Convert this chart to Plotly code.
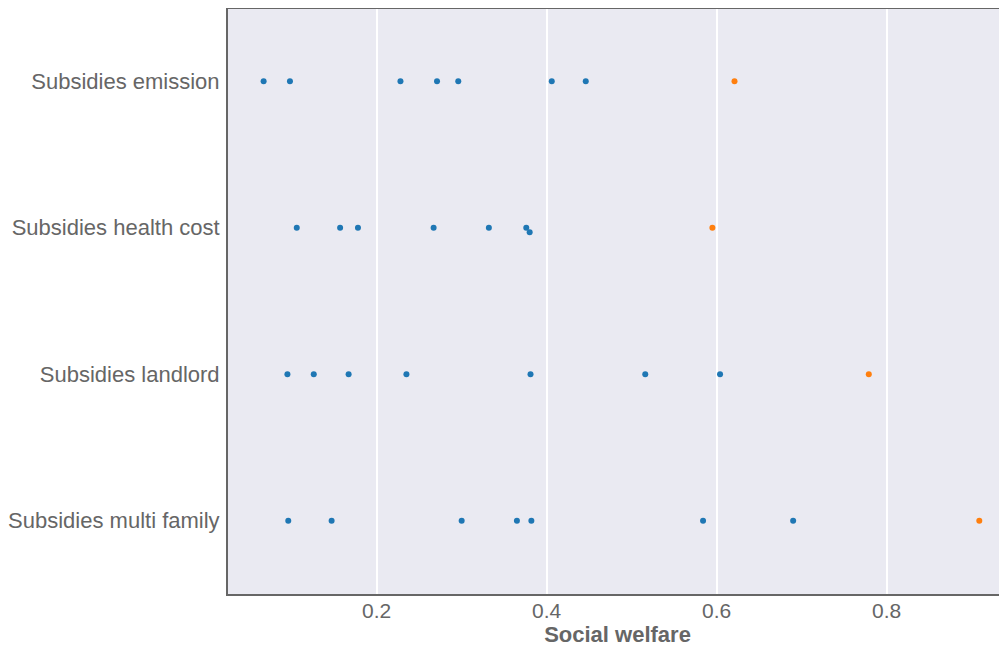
import plotly.graph_objects as go

categories = ["Subsidies emission", "Subsidies health cost", "Subsidies landlord", "Subsidies multi family"]

blue_values = [
    [0.067, 0.098, 0.228, 0.271, 0.296, 0.406, 0.446],
    [0.106, 0.157, 0.178, 0.267, 0.332, 0.376, 0.380],
    [0.095, 0.126, 0.167, 0.235, 0.381, 0.516, 0.604],
    [0.096, 0.147, 0.300, 0.365, 0.382, 0.584, 0.690],
]
orange_values = [0.621, 0.595, 0.779, 0.909]

x_tick_vals = [0.2, 0.4, 0.6, 0.8]
x_tick_text = ["0.2", "0.4", "0.6", "0.8"]

BLUE = "#1f77b4"
ORANGE = "#ff7f0e"
MARKER = 6
X_RANGE = [0.0251, 0.9416]
PX_PER_UNIT = 850.0
ROW_PX = 146.5


def dodge(values):
    """Simple swarm-style dodge: shift points that would overlap the previous one."""
    order = sorted(range(len(values)), key=lambda i: values[i])
    offs = [0.0] * len(values)
    prev = None
    for i in order:
        if prev is not None and (values[i] - values[prev]) * PX_PER_UNIT < MARKER:
            offs[i] = offs[prev] + 4.6 / ROW_PX
        prev = i
    return offs


fig = go.Figure()
bx, by, ox, oy = [], [], [], []
for ci, cat in enumerate(categories):
    vals = blue_values[ci] + [orange_values[ci]]
    offs = dodge(vals)
    for j, v in enumerate(blue_values[ci]):
        bx.append(v)
        by.append(ci + offs[j])
    ox.append(orange_values[ci])
    oy.append(ci + offs[-1])

fig.add_trace(go.Scatter(x=bx, y=by, mode="markers",
                         marker=dict(color=BLUE, size=MARKER, line=dict(width=0)),
                         showlegend=False))
fig.add_trace(go.Scatter(x=ox, y=oy, mode="markers",
                         marker=dict(color=ORANGE, size=MARKER, line=dict(width=0)),
                         showlegend=False))

TEXT = "#666666"
fig.update_layout(
    width=999, height=643,
    margin=dict(l=220, r=0, t=0, b=57),
    paper_bgcolor="white",
    plot_bgcolor="#EAEAF2",
    font=dict(family="Liberation Sans, Arial, sans-serif", size=22, color=TEXT),
    xaxis=dict(
        range=X_RANGE, tickvals=x_tick_vals, ticktext=x_tick_text,
        showgrid=True, gridcolor="white", gridwidth=1.5,
        zeroline=False, showline=True, linecolor=TEXT, linewidth=2,
        ticks="", ticklabelstandoff=-3, tickfont=dict(size=21),
        title=dict(text="<b>Social welfare</b>", font=dict(size=22, color=TEXT), standoff=4),
    ),
    yaxis=dict(
        range=[3.5, -0.5], tickvals=list(range(len(categories))), ticktext=categories,
        showgrid=False, zeroline=False, showline=True, linecolor=TEXT, linewidth=2,
        ticks="", ticklabelstandoff=2,
    ),
    shapes=[dict(type="line", xref="paper", yref="paper", x0=0, x1=1, y0=1, y1=1,
                 line=dict(color=TEXT, width=2))],
)

fig.write_html("out.html")
